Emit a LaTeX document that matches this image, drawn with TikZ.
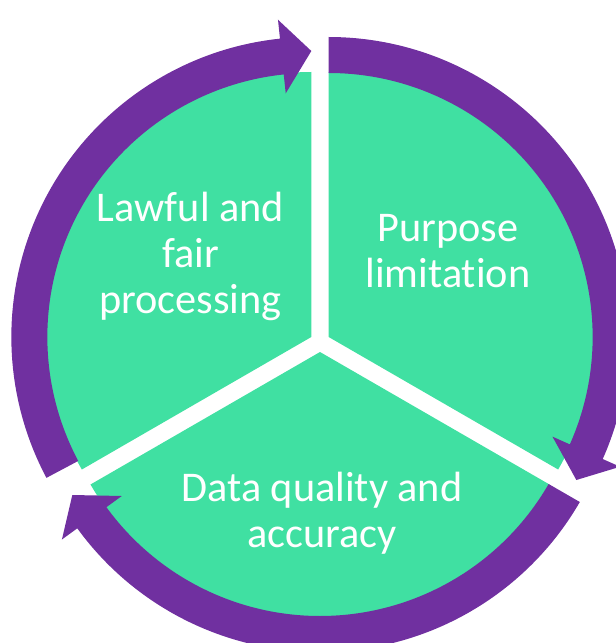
\documentclass[tikz,border=0pt]{standalone}
\usepackage{fontspec}
\setmainfont{Carlito}[Ligatures=NoCommon]
\usepackage{tikz}
\definecolor{piegreen}{RGB}{64,224,162}
\definecolor{ringpurple}{RGB}{112,48,160}

\begin{document}
\begin{tikzpicture}[x=1pt, y=1pt,
  sec/.style={fill=piegreen},
  arr/.style={fill=ringpurple},
  lab/.style={text=white, align=center, inner sep=0pt, font=\fontsize{42.3}{46}\selectfont}]
\clip (-320,-301) rectangle (296,342);
\fill[sec, shift={(150:10)}] (0,0) -- (90:265) arc[start angle=90, end angle=210, radius=265] -- cycle;
\fill[sec, shift={(30:10)}] (0,0) -- (-30:265) arc[start angle=-30, end angle=90, radius=265] -- cycle;
\fill[sec, shift={(270:10)}] (0,0) -- (210:265) arc[start angle=210, end angle=330, radius=265] -- cycle;
\fill[arr, shift={(150:10)}] (208:264) arc[start angle=208, end angle=96, radius=264] -- (96:245) -- (90:286) -- (96:319) -- (96:300) arc[start angle=96, end angle=208, radius=300] -- cycle;
\fill[arr, shift={(30:10)}] (90:264) arc[start angle=90, end angle=-24, radius=264] -- (-24:245) -- (-30:286) -- (-24:319) -- (-24:300) arc[start angle=-24, end angle=90, radius=300] -- cycle;
\fill[arr, shift={(270:10)}] (330:264) arc[start angle=330, end angle=216, radius=264] -- (216:245) -- (210:286) -- (216:319) -- (216:300) arc[start angle=216, end angle=330, radius=300] -- cycle;
\node[lab] (l) at (-129.5,86) {Lawful and\\fair\\processing};
\node[lab] (p) at (128,90.5) {Purpose\\limitation};
\node[lab] (d) at (2,-171) {Data quality and\\accuracy};
\end{tikzpicture}
\end{document}
